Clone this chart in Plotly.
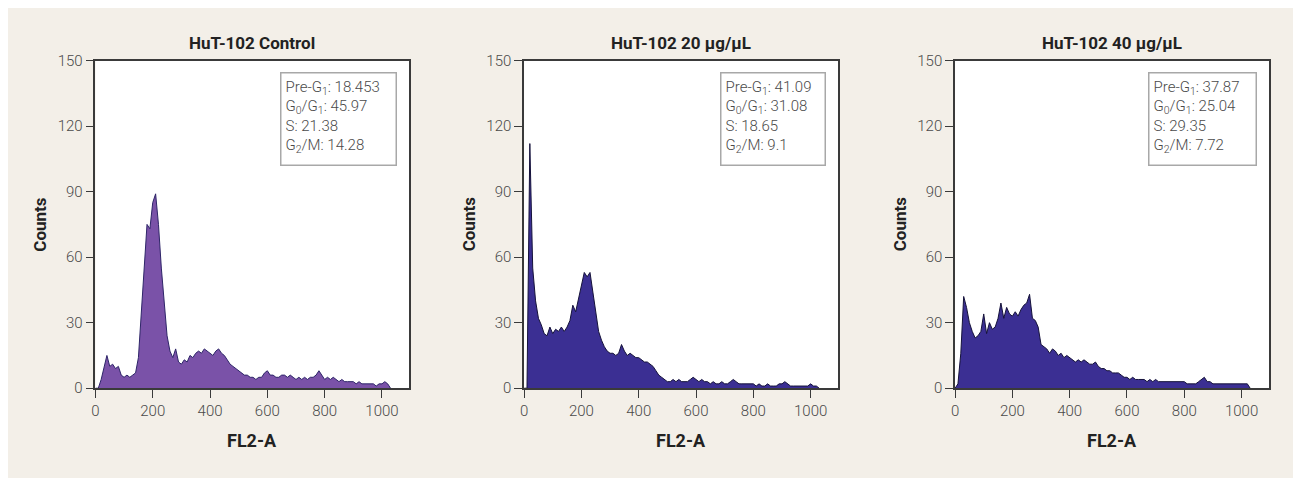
import plotly.graph_objects as go

# The page keeps the browser's default 8px body margin, which gives the white
# strip on the top and left; the figure fills the rest of the window.
OFF = 8
W, H = 1301 - OFF, 478 - OFF

# ---------------- data ----------------
fl2_channels = list(range(0, 1040, 10))  # FL2-A channel (bin start)

counts_control = [
    0, 0, 4, 10, 15, 10, 11, 9, 10, 6,
    5, 6, 5, 6, 7, 14, 35, 58, 75, 73,
    85, 89, 75, 55, 38, 24, 17, 14, 18, 12,
    11, 13, 12, 15, 14, 16, 17, 16, 18, 17,
    16, 15, 17, 18, 16, 15, 13, 11, 10, 9,
    8, 7, 6, 6, 5, 5, 4, 5, 5, 7,
    8, 6, 6, 5, 5, 6, 6, 5, 6, 5,
    4, 5, 4, 5, 4, 5, 5, 6, 8, 6,
    4, 5, 4, 5, 4, 3, 4, 3, 3, 3,
    3, 2, 3, 2, 2, 2, 2, 2, 1, 2,
    2, 3, 2, 0,
]

counts_20 = [
    0, 0, 112, 55, 40, 32, 29, 25, 24, 28,
    25, 27, 26, 28, 26, 28, 31, 38, 35, 41,
    47, 53, 51, 53, 44, 34, 26, 22, 19, 17,
    16, 16, 15, 16, 20, 17, 15, 16, 15, 14,
    14, 13, 12, 12, 11, 10, 8, 6, 5, 4,
    3, 3, 4, 3, 4, 3, 3, 3, 4, 5,
    4, 3, 4, 3, 3, 2, 3, 2, 2, 3,
    2, 2, 3, 4, 3, 2, 2, 2, 2, 2,
    2, 1, 2, 1, 1, 2, 1, 1, 1, 2,
    2, 3, 2, 1, 1, 1, 1, 1, 1, 1,
    2, 1, 1, 0,
]

counts_40 = [
    0, 2, 16, 42, 37, 30, 26, 23, 24, 26,
    34, 25, 30, 27, 28, 32, 39, 32, 37, 34,
    33, 35, 33, 36, 38, 39, 43, 32, 31, 28,
    20, 19, 18, 16, 18, 17, 15, 16, 14, 15,
    14, 13, 12, 13, 12, 13, 12, 11, 11, 12,
    10, 9, 9, 8, 8, 7, 7, 7, 6, 5,
    5, 4, 5, 4, 4, 4, 4, 3, 4, 3,
    4, 3, 3, 3, 3, 3, 3, 3, 3, 3,
    3, 2, 2, 2, 2, 3, 4, 5, 3, 3,
    2, 2, 2, 2, 2, 2, 2, 2, 2, 2,
    2, 2, 2, 0,
]

panel_titles = ["HuT-102 Control", "HuT-102 20 µg/µL", "HuT-102 40 µg/µL"]
pre_g1 = ["18.453", "41.09", "37.87"]
g0g1 = ["45.97", "31.08", "25.04"]
s_phase = ["21.38", "18.65", "29.35"]
g2m = ["14.28", "9.1", "7.72"]

x_ticks = [0, 200, 400, 600, 800, 1000]
y_ticks = [0, 30, 60, 90, 120, 150]

# ---------------- styling ----------------
BG = "#F3EFE8"
FONT = "Roboto, Arial, sans-serif"
fills = ["#7A52A8", "#3B2F93", "#3B2F93"]
outlines = ["#2E2568", "#15123A", "#15123A"]

# positions in window pixels
panels_px = [(91.7, 406.7), (521.7, 836.7), (954.0, 1269.0)]
top_px, bot_px = 53.3, 394.0
boxes_px = [(277.3, 394.0), (718.3, 824.3), (1147.3, 1256.0)]

def fx(px):
    return (px - OFF) / W

def fy(py):
    return 1 - (py - OFF) / H

series = [counts_control, counts_20, counts_40]

fig = go.Figure()
layout = dict(
    width=W, height=H,
    margin=dict(l=0, r=0, t=0, b=0),
    paper_bgcolor=BG,
    plot_bgcolor="#FFFFFF",
    showlegend=False,
    font=dict(family=FONT, color="#444444", size=15),
    annotations=[],
)

for i, (counts, (l, r)) in enumerate(zip(series, panels_px)):
    sfx = "" if i == 0 else str(i + 1)
    fig.add_trace(go.Scatter(
        x=fl2_channels, y=counts,
        mode="lines",
        line=dict(shape="linear", color=outlines[i], width=1),
        fill="tozeroy", fillcolor=fills[i],
        xaxis="x" + sfx, yaxis="y" + sfx,
        hoverinfo="x+y",
    ))
    axis_common = dict(
        showline=True, linecolor="#3A3A3A", linewidth=1.6, mirror=True,
        ticks="outside", ticklen=8, tickwidth=1.4, tickcolor="#3A3A3A",
        showgrid=False, zeroline=False,
        tickfont=dict(family=FONT, size=15, color="#4A4A4A", weight=300),
    )
    layout["xaxis" + sfx] = dict(
        axis_common, domain=[fx(l), fx(r)], range=[0, 1096],
        tickvals=x_ticks, anchor="y" + sfx,
    )
    layout["yaxis" + sfx] = dict(
        axis_common, domain=[fy(bot_px), fy(top_px)], range=[0, 150],
        tickvals=y_ticks, anchor="x" + sfx,
    )
    cx = (l + r) / 2
    layout["annotations"].append(dict(
        text="<b>%s</b>" % panel_titles[i], x=fx(cx), y=fy(35), xref="paper", yref="paper",
        xanchor="center", yanchor="middle", showarrow=False,
        font=dict(family=FONT, size=17, color="#222222"),
    ))
    layout["annotations"].append(dict(
        text="<b>FL2-A</b>", x=fx(cx), y=fy(448), xref="paper", yref="paper",
        xanchor="center", yanchor="middle", showarrow=False,
        font=dict(family=FONT, size=18, color="#222222"),
    ))
    layout["annotations"].append(dict(
        text="<b>Counts</b>", x=fx(l - 55.7), y=fy(223), xref="paper", yref="paper",
        xanchor="center", yanchor="middle", showarrow=False, textangle=-90,
        font=dict(family=FONT, size=17, color="#222222"),
    ))
    bl, br = boxes_px[i]
    txt = ("Pre-G<sub>1</sub>: %s<br>G<sub>0</sub>/G<sub>1</sub>: %s<br>S: %s<br>G<sub>2</sub>/M: %s"
           % (pre_g1[i], g0g1[i], s_phase[i], g2m[i]))
    layout["annotations"].append(dict(
        text=txt, x=fx(bl), y=fy(65.7), xref="paper", yref="paper",
        xanchor="left", yanchor="top", showarrow=False, align="left",
        width=(br - bl) - 11, height=83, valign="top",
        bordercolor="#A8A8A8", borderwidth=1.5, borderpad=4,
        bgcolor="#FFFFFF",
        font=dict(family=FONT, size=15, color="#4A4A4A", weight=300),
    ))

fig.update_layout(**layout)
fig.write_html("out.html", config={"displayModeBar": False})
